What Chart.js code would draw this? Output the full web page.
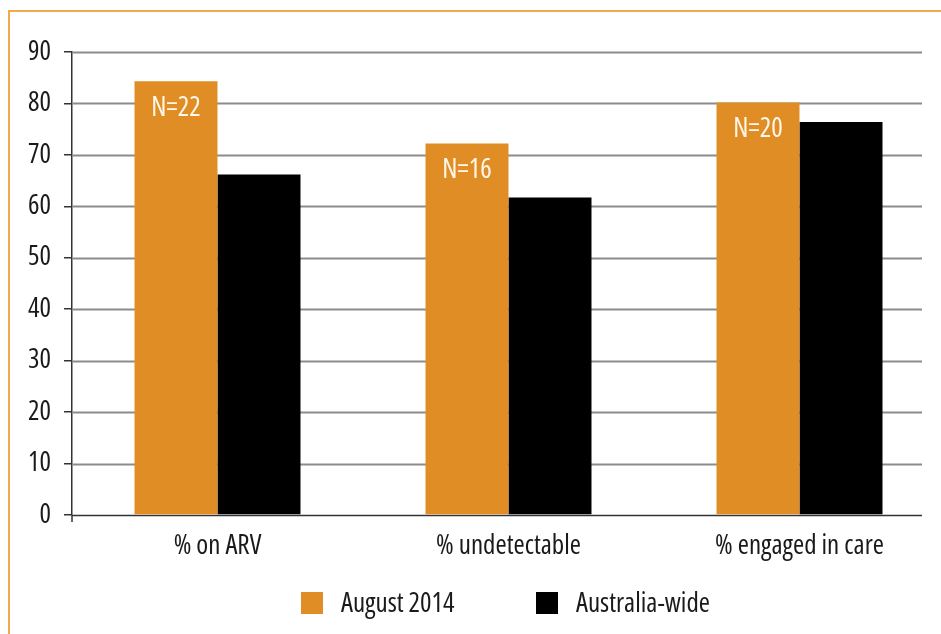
<!DOCTYPE html>
<html>
<head>
<meta charset="utf-8">
<script src="https://cdn.jsdelivr.net/npm/chart.js@4.4.1/dist/chart.umd.min.js"></script>
<style>
  html, body { margin: 0; padding: 0; width: 941px; height: 634px; overflow: hidden; background: #fff; }
  #wrap { position: absolute; left: 0; top: 0; width: 960px; height: 634px; }
  #frame { position: absolute; left: 8px; top: 10px; width: 960px; height: 640px;
           border-top: 2px solid #F2A94C; border-left: 2px solid #F2A94C; pointer-events: none; }
</style>
</head>
<body>
<div id="wrap"><canvas id="c" width="960" height="634"></canvas></div>
<div id="frame"></div>
<script>
const categories = ['% on ARV', '% undetectable', '% engaged in care'];
const seriesNames = ['August 2014', 'Australia-wide'];
const august2014 = [84.3, 72.2, 80.2];
const australiaWide = [66.2, 61.7, 76.4];
const sampleSizes = ['N=22', 'N=16', 'N=20'];
const yTicks = [0, 10, 20, 30, 40, 50, 60, 70, 80, 90];

const FAMILY = "'Open Sans', 'Roboto Condensed', sans-serif";
const WEIGHT = '400 condensed';
const SIZE = 27;
const FONTSTR = WEIGHT + ' ' + SIZE + 'px ' + FAMILY;
const ORANGE = '#E18D26';
const BLACK = '#000000';
const TEXT = '#1a1a1a';

const overlay = {
  id: 'overlay',
  beforeDatasetsDraw(chart) {
    const ctx = chart.ctx, ca = chart.chartArea, y = chart.scales.y;
    const gridRight = 922;
    ctx.save();
    yTicks.forEach(v => {
      const py = Math.round(y.getPixelForValue(v)) + 0.5;
      ctx.beginPath();
      ctx.strokeStyle = v === 0 ? '#333333' : '#8c8c8c';
      ctx.lineWidth = v === 0 ? 1.5 : 1.8;
      ctx.moveTo(ca.left, py);
      ctx.lineTo(gridRight, py);
      ctx.stroke();
    });
    ctx.beginPath();
    ctx.strokeStyle = '#333333';
    ctx.lineWidth = 1.5;
    ctx.moveTo(ca.left, ca.bottom);
    ctx.lineTo(ca.left, ca.bottom + 7);
    ctx.stroke();
    ctx.restore();
  },
  afterDatasetsDraw(chart) {
    const ctx = chart.ctx;
    const meta = chart.getDatasetMeta(0);
    ctx.save();
    ctx.fillStyle = '#FFF8EA';
    ctx.font = FONTSTR;
    ctx.textAlign = 'center';
    ctx.textBaseline = 'middle';
    meta.data.forEach((bar, i) => {
      ctx.fillText(sampleSizes[i], bar.x, bar.y + 27);
    });
    const items = chart.data.datasets.map(d => ({ label: d.label, color: d.backgroundColor }));
    const positions = [301, 536];
    const cy = 603;
    ctx.textAlign = 'left';
    items.forEach((it, i) => {
      ctx.fillStyle = it.color;
      ctx.fillRect(positions[i], cy - 11, 22, 22);
      ctx.fillStyle = TEXT;
      ctx.font = FONTSTR;
      ctx.fillText(it.label, positions[i] + 40, cy + 1);
    });
    ctx.restore();
  }
};

new Chart(document.getElementById('c'), {
  type: 'bar',
  data: {
    labels: categories,
    datasets: [
      { label: seriesNames[0], data: august2014, backgroundColor: ORANGE, borderWidth: 0 },
      { label: seriesNames[1], data: australiaWide, backgroundColor: BLACK, borderWidth: 0 }
    ]
  },
  options: {
    responsive: false,
    animation: false,
    devicePixelRatio: 1,
    layout: { padding: { top: 52, left: 0, right: 15, bottom: 0 } },
    datasets: { bar: { categoryPercentage: 0.5704, barPercentage: 1.0 } },
    plugins: { legend: { display: false }, tooltip: { enabled: false } },
    scales: {
      x: {
        grid: { display: false, drawTicks: false },
        border: { display: false },
        ticks: { font: { family: FAMILY, size: SIZE, weight: WEIGHT }, color: TEXT, padding: 15, maxRotation: 0 },
        afterFit(s) { s.height = 119; }
      },
      y: {
        min: 0, max: 90,
        afterBuildTicks(s) { s.ticks = yTicks.map(v => ({ value: v })); },
        grid: { display: true, drawOnChartArea: false, drawTicks: true, tickLength: 8, color: '#333333', lineWidth: 1.5 },
        border: { display: true, color: '#333333', width: 1.5 },
        ticks: { font: { family: FAMILY, size: SIZE, weight: WEIGHT }, color: TEXT, padding: 13 },
        afterFit(s) { s.width = 72; }
      }
    }
  },
  plugins: [overlay]
});
</script>
</body>
</html>
